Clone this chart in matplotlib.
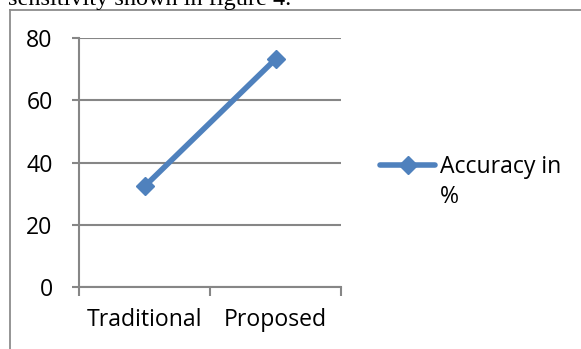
import matplotlib.pyplot as plt
from matplotlib.lines import Line2D

categories = ['Traditional', 'Proposed']
accuracy = [32.3, 73.2]
yticks = [0, 20, 40, 60, 80]
series_label = ['Accuracy in', '%']

blue = '#4F81BD'
grid = '#868686'
fs = 16.6

plt.rcParams['font.family'] = ['Open Sans', 'DejaVu Sans']

fig = plt.figure(figsize=(5.81, 3.49), dpi=100)
W, H = 581, 349

# caption line above the chart, cut off by the page edge
fig.text(8 / W, 1 - 5 / H, 'sensitivity shown in figure 4.', family='Liberation Serif',
         fontsize=17.5, va='baseline', ha='left')

# chart frame (left and top edges only are visible)
fig.add_artist(Line2D([10 / W, 10 / W], [0, 1 - 10 / H], color='#8c8c8c', lw=1.3,
                      transform=fig.transFigure))
fig.add_artist(Line2D([10 / W, 1], [1 - 10 / H, 1 - 10 / H], color='#8c8c8c', lw=1.3,
                      transform=fig.transFigure))

ax = fig.add_axes([79 / W, 1 - 287 / H, (341 - 79) / W, (287 - 38) / H])
x = [i + 0.5 for i in range(len(categories))]
ax.plot(x, accuracy, color=blue, lw=4, marker='D', markersize=9,
        markeredgecolor=blue, solid_capstyle='butt')

ax.set_xlim(0, len(categories))
ax.set_ylim(0, 80)
ax.set_yticks(yticks)
ax.yaxis.grid(True, color=grid, lw=1.5)
ax.set_axisbelow(True)

ax.set_xticks(x)
ax.set_xticklabels(categories, fontsize=fs)
ax.tick_params(axis='x', length=0, pad=15)
ax.set_xticks(range(len(categories) + 1), minor=True)
ax.tick_params(axis='x', which='minor', length=6.5, width=1.5, color=grid, direction='out')
ax.tick_params(axis='y', length=5, width=1.5, color=grid, labelsize=fs, pad=14)

for s in ['top', 'right']:
    ax.spines[s].set_visible(False)
for s in ['left', 'bottom']:
    ax.spines[s].set_color(grid)
    ax.spines[s].set_linewidth(1.5)

# legend: line sample with marker, label wrapped on two lines
ly = 1 - 165 / H
fig.add_artist(Line2D([380 / W, 435 / W], [ly, ly], color=blue, lw=4,
                      solid_capstyle='round', transform=fig.transFigure))
fig.add_artist(Line2D([408 / W], [ly], color=blue, marker='D', markersize=9,
                      transform=fig.transFigure))
fig.text(440 / W, 1 - 173 / H, series_label[0], fontsize=fs, va='baseline')
fig.text(440 / W, 1 - 203 / H, series_label[1], fontsize=fs, va='baseline')

fig.savefig('out.png', dpi=100)
